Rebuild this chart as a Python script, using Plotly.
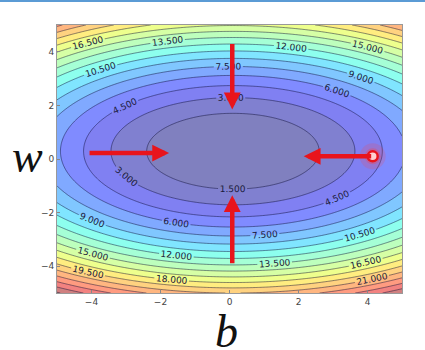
import numpy as np
import plotly.graph_objects as go

# --- values -------------------------------------------------------------
# loss surface: elliptic bowl, minimum slightly above w=0
center_b = 0.1        # b at the minimum
center_w = 0.29       # w at the minimum
curv_b = 0.24         # loss grows by curv_b * (b-center_b)^2
curv_w = 0.75         # loss grows by curv_w * (w-center_w)^2
level_start = 1.5
level_end = 27.0
level_step = 1.5

# red arrows (tail -> head) in (b, w)
arrow_tail_b = [0.08, 0.08, -4.1, 4.15]
arrow_tail_w = [4.35, -3.95, 0.22, 0.10]
arrow_head_b = [0.08, 0.08, -1.75, 2.15]
arrow_head_w = [1.85, -1.35, 0.22, 0.10]

# starting point (red circle)
start_b = [4.15]
start_w = [0.10]

x_ticks = [-4, -2, 0, 2, 4]
y_ticks = [-4, -2, 0, 2, 4]

# --- surface ---------------------------------------------------------------
b_grid = np.linspace(-5, 5, 241)
w_grid = np.linspace(-5, 5, 241)
B, W = np.meshgrid(b_grid, w_grid)
Z = curv_b * (B - center_b) ** 2 + curv_w * (W - center_w) ** 2

# jet colormap blended with white (alpha 0.5)
jet_r = [(0, 0), (0.35, 0), (0.66, 1), (0.89, 1), (1, 0.5)]
jet_g = [(0, 0), (0.125, 0), (0.375, 1), (0.64, 1), (0.91, 0), (1, 0)]
jet_b = [(0, 0.5), (0.11, 1), (0.34, 1), (0.65, 0), (1, 0)]
alpha = 0.5
def seg(s, t):
    xs, ys = zip(*s)
    return float(np.interp(t, xs, ys))
colorscale = []
for t in np.linspace(0, 1, 41):
    rgb = [seg(s, t) for s in (jet_r, jet_g, jet_b)]
    c = [int(round(255 * (alpha * v + (1 - alpha)))) for v in rgb]
    colorscale.append([float(t), f"rgb({c[0]},{c[1]},{c[2]})"])

fig = go.Figure()
fig.add_trace(go.Contour(
    x=b_grid, y=w_grid, z=Z,
    colorscale=colorscale, showscale=False,
    zmin=0, zmax=level_end,
    contours=dict(start=level_start, end=level_end, size=level_step,
                  coloring="fill", showlabels=True,
                  labelformat=".3f",
                  labelfont=dict(size=9, color="#1a1a3a", family="DejaVu Sans")),
    line=dict(color="rgba(10,10,50,0.6)", width=0.8),
    hoverinfo="skip",
))

# glow + circle at the starting point
fig.add_trace(go.Scatter(x=start_b, y=start_w, mode="markers",
                         marker=dict(size=26, color="rgba(255,60,60,0.18)", line=dict(width=0)),
                         hoverinfo="skip", showlegend=False))
fig.add_trace(go.Scatter(x=start_b, y=start_w, mode="markers",
                         marker=dict(size=16, color="rgba(255,60,60,0.3)", line=dict(width=0)),
                         hoverinfo="skip", showlegend=False))

red = "#e8141c"
annotations = []
for tb, tw, hb, hw in zip(arrow_tail_b, arrow_tail_w, arrow_head_b, arrow_head_w):
    annotations.append(dict(x=hb, y=hw, ax=tb, ay=tw, xref="x", yref="y",
                            axref="x", ayref="y", text="", showarrow=True,
                            arrowhead=2, arrowsize=0.75, arrowwidth=4.5,
                            arrowcolor=red))

fig.add_trace(go.Scatter(x=start_b, y=start_w, mode="markers",
                         marker=dict(size=10, color="#ffd0d0", line=dict(width=2.5, color=red)),
                         hoverinfo="skip", showlegend=False))

annotations.append(dict(text="<i>w</i>", x=-0.085, y=0.51, xref="paper", yref="paper",
                        showarrow=False, xanchor="center", yanchor="middle",
                        font=dict(family="Liberation Serif", size=46, color="#111")))
annotations.append(dict(text="<i>b</i>", x=0.49, y=-0.142, xref="paper", yref="paper",
                        showarrow=False, xanchor="center", yanchor="middle",
                        height=36, valign="middle",
                        font=dict(family="Liberation Serif", size=46, color="#111")))

fig.update_layout(
    width=425, height=350,
    margin=dict(l=57, r=23, t=25, b=57),
    paper_bgcolor="white", plot_bgcolor="white",
    showlegend=False,
    annotations=annotations,
    shapes=[dict(type="line", xref="paper", yref="paper",
                 x0=-0.2, x1=1.1, y0=1 + 24 / 268, y1=1 + 24 / 268,
                 line=dict(color="#5b9bd5", width=2))],
)
fig.update_xaxes(range=[-5, 5], tickvals=x_ticks, showgrid=False, zeroline=False,
                 ticks="inside", ticklen=3, tickcolor="#888",
                 showline=True, linecolor="#999", linewidth=1, mirror=True,
                 tickfont=dict(size=9, color="#444", family="DejaVu Sans"))
fig.update_yaxes(range=[-5, 5], tickvals=y_ticks, showgrid=False, zeroline=False,
                 ticks="inside", ticklen=3, tickcolor="#888",
                 showline=True, linecolor="#999", linewidth=1, mirror=True,
                 tickfont=dict(size=9, color="#444", family="DejaVu Sans"))

fig.write_html("out.html", config={"displayModeBar": False},
               post_script="document.body.style.margin='0';document.body.style.padding='0';")
